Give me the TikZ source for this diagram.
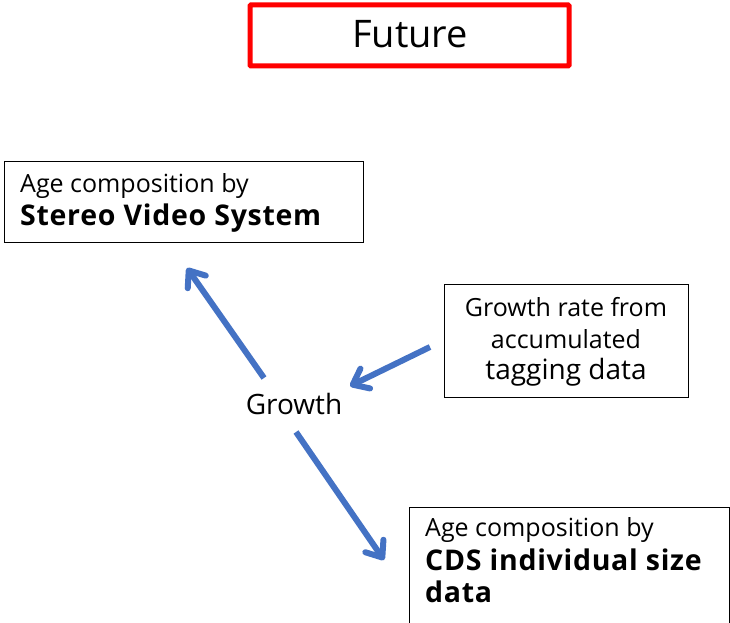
\documentclass[tikz,border=0pt]{standalone}
\usepackage{fontspec}
\setmainfont{Open Sans}
\usetikzlibrary{arrows.meta}
\definecolor{flowblue}{HTML}{4472C4}
\definecolor{alertred}{HTML}{FF0000}
\tikzset{
  box/.style={draw=black, line width=1.3pt, rectangle, inner sep=0pt, anchor=north west},
  titlebox/.style={draw=alertred, line width=5pt, rectangle, inner sep=0pt, rounded corners=1pt},
  txt/.style={inner sep=0pt, font=\fontsize{25}{29}\selectfont},
  boldtxt/.style={inner sep=0pt, font=\fontsize{28.5}{32}\selectfont\bfseries\addfontfeature{LetterSpace=2.5}},
  flow/.style={draw=flowblue, line width=6pt, -{Straight Barb[length=14pt,width=22pt,round]}}
}
\begin{document}
\begin{tikzpicture}[x=1pt, y=-1pt]
  \useasboundingbox (0,0) rectangle (730,623);

  % heading
  \node[titlebox, minimum width=319, minimum height=61] (future) at (409.5,35.5) {};
  \node[inner sep=0pt, font=\fontsize{38}{42}\selectfont, anchor=base] (futuretxt) at (410,48) {Future};

  % age composition from stereo video
  \node[box, minimum width=359, minimum height=81] (svs) at (4,161) {};
  \node[txt, anchor=base west] (svs1) at (20,192) {Age composition by};
  \node[boldtxt, anchor=base west] (svs2) at (20,225) {Stereo Video System};

  % tagging data
  \node[box, minimum width=244, minimum height=113] (tag) at (444,284) {};
  \node[txt, anchor=base] (tag1) at (566,316) {Growth rate from};
  \node[txt, anchor=base] (tag2) at (566,348) {accumulated};
  \node[txt, anchor=base, font=\fontsize{28}{32}\selectfont] (tag3) at (566,379) {tagging data};

  % central quantity
  \node[inner sep=0pt, font=\fontsize{28}{32}\selectfont, anchor=base] (growth) at (294,414) {Growth};

  % age composition from CDS sizes (box runs past the lower edge)
  \node[box, minimum width=320, minimum height=130] (cds) at (409,507) {};
  \node[txt, anchor=base west] (cds1) at (425,536) {Age composition by};
  \node[boldtxt, anchor=base west] (cds2) at (425,570) {CDS individual size};
  \node[boldtxt, anchor=base west] (cds3) at (425,602) {data};

  % arrow end points
  \coordinate (gUp) at (264,378);
  \coordinate (svsTip) at (187,268);
  \coordinate (tagStart) at (430,347);
  \coordinate (gTip) at (350,386);
  \coordinate (gDown) at (296,432);
  \coordinate (cdsTip) at (384,560);

  \draw[flow] (gUp) -- (svsTip);
  \draw[flow] (tagStart) -- (gTip);
  \draw[flow] (gDown) -- (cdsTip);
\end{tikzpicture}
\end{document}
